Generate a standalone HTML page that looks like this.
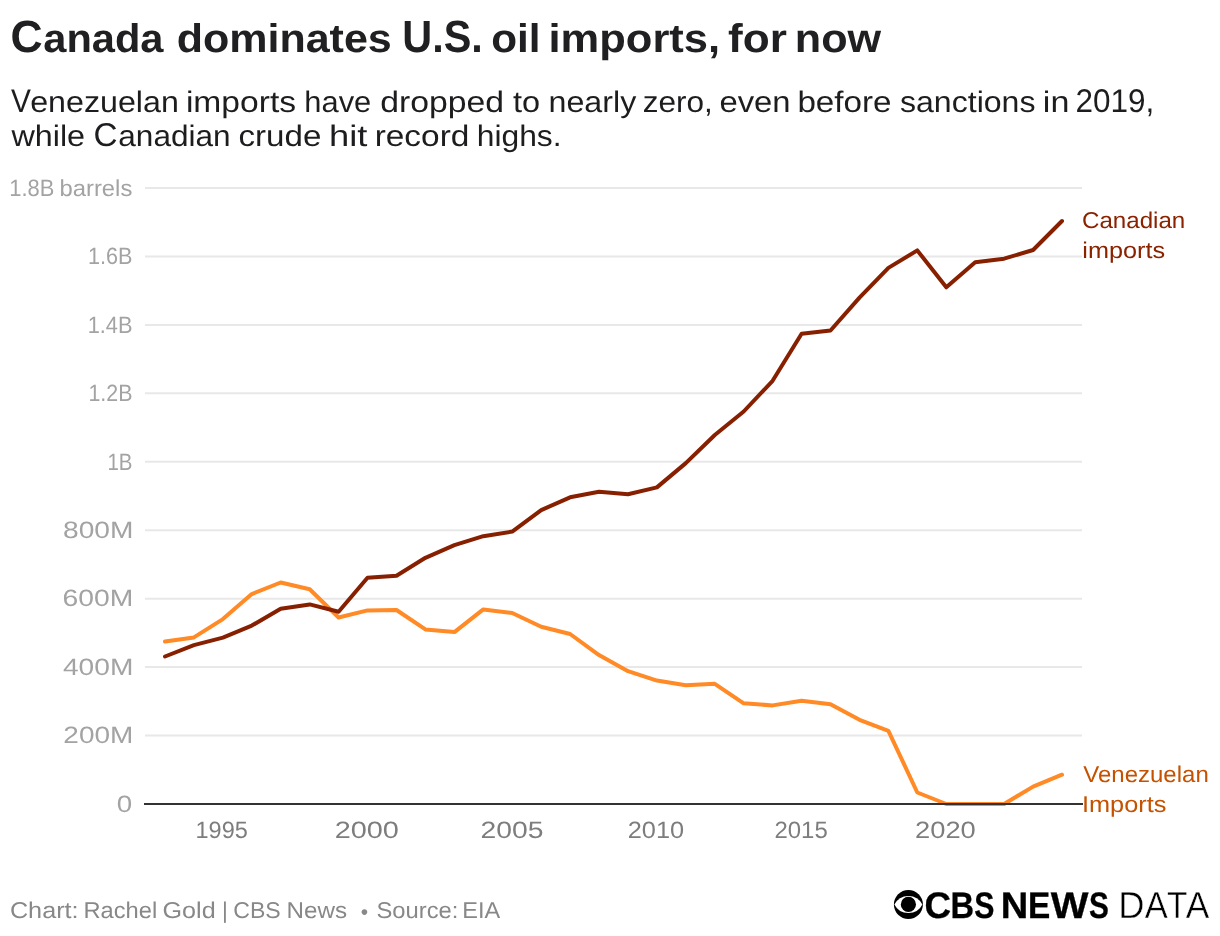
<!DOCTYPE html>
<html lang="en">
<head>
<meta charset="utf-8">
<title>Canada dominates U.S. oil imports, for now</title>
<style>
html,body{margin:0;padding:0;background:#fff;}
body{width:1220px;height:936px;overflow:hidden;font-family:"Liberation Sans", sans-serif;}
svg{display:block;}
svg text{font-family:"Liberation Sans", sans-serif;text-rendering:geometricPrecision;}
#wrap{will-change:transform;width:1220px;height:936px;}
.title text{font-weight:700;font-size:40px;fill:#202022;}
.sub text{font-size:29.7px;fill:#1d1d1f;}
.grid line{stroke:#e8e8e8;stroke-width:2;}
.ylab text{font-size:23.7px;fill:#a3a3a3;}
.xlab text{font-size:23.7px;fill:#7d7d7d;}
.foot text{font-size:22.8px;fill:#888;}
.lab text{font-size:22.8px;}
.logo-b text{font-weight:700;font-size:37px;fill:#000;stroke:#000;stroke-width:0.3px;}
.logo-l text{font-weight:400;font-size:37.6px;fill:#000;stroke:#fff;stroke-width:0.45px;}
</style>
</head>
<body>
<div id="wrap">
<svg width="1220" height="936" viewBox="0 0 1220 936">
<rect width="1220" height="936" fill="#fff"/>
<g class="title">
<text y="52.30"><tspan x="10.61" textLength="32.14" lengthAdjust="spacingAndGlyphs" style="font-size:45px">C</tspan><tspan x="43.25" textLength="120.24" lengthAdjust="spacingAndGlyphs">anada</tspan> <tspan x="176.66" textLength="215.09" lengthAdjust="spacingAndGlyphs">dominates</tspan> <tspan x="402.26" textLength="80.48" lengthAdjust="spacingAndGlyphs" style="font-size:45px">U.S.</tspan> <tspan x="491.18" textLength="49.32" lengthAdjust="spacingAndGlyphs">oil</tspan> <tspan x="548.53" textLength="171.54" lengthAdjust="spacingAndGlyphs">imports,</tspan> <tspan x="728.06" textLength="58.81" lengthAdjust="spacingAndGlyphs">for</tspan> <tspan x="794.80" textLength="86.30" lengthAdjust="spacingAndGlyphs">now</tspan></text>
</g>
<g class="sub">
<text y="111.70"><tspan x="10.90" textLength="19.90" lengthAdjust="spacingAndGlyphs" style="font-size:32.8px">V</tspan><tspan x="30.19" textLength="148.61" lengthAdjust="spacingAndGlyphs">enezuelan</tspan> <tspan x="185.90" textLength="110.15" lengthAdjust="spacingAndGlyphs">imports</tspan> <tspan x="304.32" textLength="66.93" lengthAdjust="spacingAndGlyphs">have</tspan> <tspan x="380.20" textLength="123.70" lengthAdjust="spacingAndGlyphs">dropped</tspan> <tspan x="513.00" textLength="27.07" lengthAdjust="spacingAndGlyphs">to</tspan> <tspan x="548.49" textLength="87.76" lengthAdjust="spacingAndGlyphs">nearly</tspan> <tspan x="642.76" textLength="70.09" lengthAdjust="spacingAndGlyphs">zero,</tspan> <tspan x="719.48" textLength="71.12" lengthAdjust="spacingAndGlyphs">even</tspan> <tspan x="797.42" textLength="94.17" lengthAdjust="spacingAndGlyphs">before</tspan> <tspan x="900.00" textLength="135.50" lengthAdjust="spacingAndGlyphs">sanctions</tspan> <tspan x="1042.87" textLength="26.55" lengthAdjust="spacingAndGlyphs">in</tspan> <tspan x="1075.52" textLength="78.83" lengthAdjust="spacingAndGlyphs" style="font-size:32.8px">2019,</tspan></text>
<text y="145.50"><tspan x="11.41" textLength="73.65" lengthAdjust="spacingAndGlyphs">while</tspan> <tspan x="93.54" textLength="24.01" lengthAdjust="spacingAndGlyphs" style="font-size:32.8px">C</tspan><tspan x="118.31" textLength="112.36" lengthAdjust="spacingAndGlyphs">anadian</tspan> <tspan x="238.46" textLength="82.88" lengthAdjust="spacingAndGlyphs">crude</tspan> <tspan x="328.98" textLength="38.40" lengthAdjust="spacingAndGlyphs">hit</tspan> <tspan x="374.66" textLength="94.71" lengthAdjust="spacingAndGlyphs">record</tspan> <tspan x="476.76" textLength="84.86" lengthAdjust="spacingAndGlyphs">highs.</tspan></text>
</g>
<g class="grid">
<line x1="145" x2="1082" y1="188.0" y2="188.0"/>
<line x1="145" x2="1082" y1="256.4" y2="256.4"/>
<line x1="145" x2="1082" y1="324.9" y2="324.9"/>
<line x1="145" x2="1082" y1="393.3" y2="393.3"/>
<line x1="145" x2="1082" y1="461.8" y2="461.8"/>
<line x1="145" x2="1082" y1="530.2" y2="530.2"/>
<line x1="145" x2="1082" y1="598.7" y2="598.7"/>
<line x1="145" x2="1082" y1="667.1" y2="667.1"/>
<line x1="145" x2="1082" y1="735.6" y2="735.6"/>
</g>
<g class="ylab">
<text y="195.80"><tspan x="9.33" textLength="45.09" lengthAdjust="spacingAndGlyphs">1.8B</tspan> <tspan x="59.51" textLength="72.83" lengthAdjust="spacingAndGlyphs" style="font-size:23px">barrels</tspan></text>
<text y="264.24"><tspan x="87.95" textLength="44.56" lengthAdjust="spacingAndGlyphs">1.6B</tspan></text>
<text y="332.69"><tspan x="87.64" textLength="44.88" lengthAdjust="spacingAndGlyphs">1.4B</tspan></text>
<text y="401.13"><tspan x="88.46" textLength="44.04" lengthAdjust="spacingAndGlyphs">1.2B</tspan></text>
<text y="469.58"><tspan x="107.42" textLength="25.04" lengthAdjust="spacingAndGlyphs">1B</tspan></text>
<text y="538.02"><tspan x="63.02" textLength="70.37" lengthAdjust="spacingAndGlyphs">800M</tspan></text>
<text y="606.47"><tspan x="62.57" textLength="70.84" lengthAdjust="spacingAndGlyphs">600M</tspan></text>
<text y="674.91"><tspan x="62.96" textLength="70.44" lengthAdjust="spacingAndGlyphs">400M</tspan></text>
<text y="743.36"><tspan x="63.39" textLength="70.00" lengthAdjust="spacingAndGlyphs">200M</tspan></text>
<text y="811.80"><tspan x="116.83" textLength="15.46" lengthAdjust="spacingAndGlyphs">0</tspan></text>
</g>
<g class="xlab">
<text y="837.50"><tspan x="195.53" textLength="52.32" lengthAdjust="spacingAndGlyphs">1995</tspan> <tspan x="334.65" textLength="64.27" lengthAdjust="spacingAndGlyphs">2000</tspan> <tspan x="480.47" textLength="62.97" lengthAdjust="spacingAndGlyphs">2005</tspan> <tspan x="627.71" textLength="56.42" lengthAdjust="spacingAndGlyphs">2010</tspan> <tspan x="774.48" textLength="53.29" lengthAdjust="spacingAndGlyphs">2015</tspan> <tspan x="915.02" textLength="60.76" lengthAdjust="spacingAndGlyphs">2020</tspan></text>
</g>
<path d="M165.0,641.6 L193.9,637.4 L222.9,619.1 L251.8,594.1 L280.7,582.5 L309.7,589.3 L338.6,617.5 L367.5,610.4 L396.5,610.0 L425.4,629.4 L454.4,632.1 L483.3,609.4 L512.2,613.0 L541.2,626.8 L570.1,634.0 L599.0,655.1 L628.0,671.2 L656.9,680.6 L685.8,685.2 L714.8,683.8 L743.7,703.3 L772.6,705.4 L801.6,700.7 L830.5,704.3 L859.5,719.8 L888.4,730.8 L917.3,792.5 L946.3,804.0 L975.2,804.0 L1004.1,804.0 L1033.1,786.6 L1062.0,774.7" fill="none" stroke="#ff8a26" stroke-width="4" stroke-linejoin="round" stroke-linecap="round"/>
<path d="M165.0,656.5 L193.9,645.1 L222.9,637.6 L251.8,625.6 L280.7,608.8 L309.7,604.4 L338.6,611.8 L367.5,577.7 L396.5,575.7 L425.4,557.8 L454.4,545.2 L483.3,536.2 L512.2,531.6 L541.2,510.1 L570.1,497.3 L599.0,491.7 L628.0,494.3 L656.9,487.4 L685.8,463.1 L714.8,435.0 L743.7,411.5 L772.6,380.8 L801.6,333.7 L830.5,330.5 L859.5,297.6 L888.4,267.9 L917.3,250.4 L946.3,287.3 L975.2,262.3 L1004.1,258.7 L1033.1,250.0 L1062.0,221.0" fill="none" stroke="#872000" stroke-width="4" stroke-linejoin="round" stroke-linecap="round"/>
<line x1="144" x2="1083" y1="804" y2="804" stroke="#333333" stroke-width="2"/>
<g class="lab" fill="#8a2300">
<text y="227.50"><tspan x="1081.97" textLength="103.29" lengthAdjust="spacingAndGlyphs">Canadian</tspan></text>
<text y="257.70"><tspan x="1082.32" textLength="82.77" lengthAdjust="spacingAndGlyphs">imports</tspan></text>
</g>
<g class="lab" fill="#c45200">
<text y="781.70"><tspan x="1083.30" textLength="125.45" lengthAdjust="spacingAndGlyphs">Venezuelan</tspan></text>
<text y="811.70"><tspan x="1082.02" textLength="84.37" lengthAdjust="spacingAndGlyphs">Imports</tspan></text>
</g>
<g class="foot">
<text y="917.70"><tspan x="9.92" textLength="68.66" lengthAdjust="spacingAndGlyphs">Chart:</tspan> <tspan x="83.45" textLength="73.71" lengthAdjust="spacingAndGlyphs">Rachel</tspan> <tspan x="162.52" textLength="53.09" lengthAdjust="spacingAndGlyphs">Gold</tspan> <tspan x="222.05" textLength="5.82" lengthAdjust="spacingAndGlyphs">|</tspan> <tspan x="233.32" textLength="47.45" lengthAdjust="spacingAndGlyphs">CBS</tspan> <tspan x="286.51" textLength="60.55" lengthAdjust="spacingAndGlyphs">News</tspan> <tspan x="376.46" textLength="81.99" lengthAdjust="spacingAndGlyphs">Source:</tspan> <tspan x="462.36" textLength="37.92" lengthAdjust="spacingAndGlyphs">EIA</tspan></text>
<text x="360.85" y="918.8" style="font-size:21px">•</text>
</g>
<g>
<circle cx="908.4" cy="904.5" r="14.5" fill="#000"/>
<path d="M894.4,904.5 A15.7,15.7 0 0 1 922.4,904.5 A15.7,15.7 0 0 1 894.4,904.5 Z" fill="#fff"/>
<circle cx="908.4" cy="904.4" r="7.6" fill="#000"/>
<g class="logo-b">
<text y="917.50"><tspan x="924.40" textLength="26.55" lengthAdjust="spacingAndGlyphs">C</tspan><tspan x="950.51" textLength="23.57" lengthAdjust="spacingAndGlyphs">B</tspan><tspan x="974.18" textLength="20.17" lengthAdjust="spacingAndGlyphs">S</tspan> <tspan x="1000.67" textLength="27.49" lengthAdjust="spacingAndGlyphs">N</tspan><tspan x="1028.06" textLength="22.27" lengthAdjust="spacingAndGlyphs">E</tspan><tspan x="1050.75" textLength="37.73" lengthAdjust="spacingAndGlyphs">W</tspan><tspan x="1088.89" textLength="19.85" lengthAdjust="spacingAndGlyphs">S</tspan></text>
</g>
<g class="logo-l">
<text y="917.70"><tspan x="1118.34" textLength="26.25" lengthAdjust="spacingAndGlyphs">D</tspan><tspan x="1144.78" textLength="23.08" lengthAdjust="spacingAndGlyphs">A</tspan><tspan x="1167.05" textLength="20.44" lengthAdjust="spacingAndGlyphs">T</tspan><tspan x="1185.78" textLength="23.58" lengthAdjust="spacingAndGlyphs">A</tspan></text>
</g>
</g>
</svg>
</div>
</body>
</html>
